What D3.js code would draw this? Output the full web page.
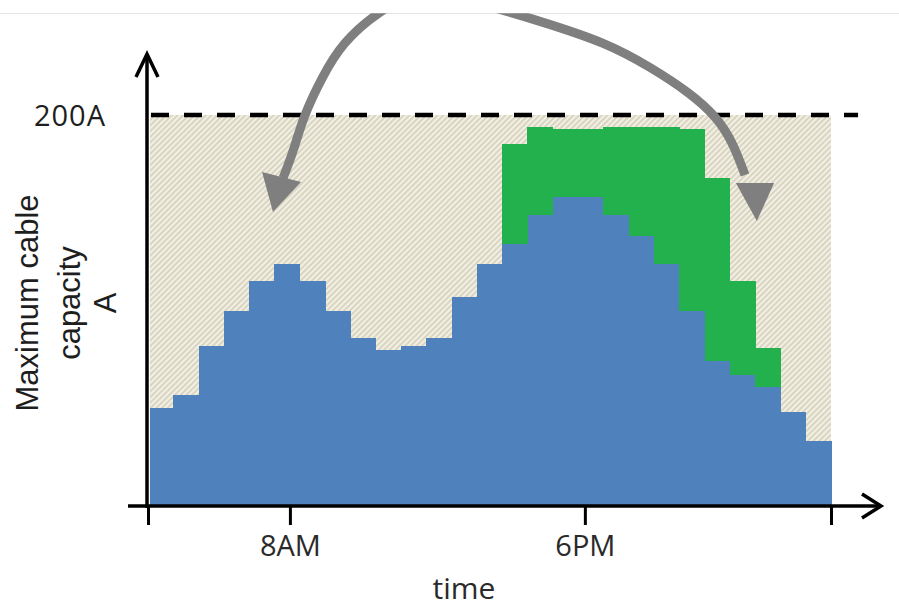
<!DOCTYPE html>
<html><head><meta charset="utf-8">
<script src="https://cdn.jsdelivr.net/npm/d3@7/dist/d3.min.js"></script>
<style>body{margin:0;background:#fff}svg{display:block}</style>
</head><body>
<svg id="chart" width="899" height="607"></svg>
<script>
// ---- data ----
const demandBlue = [50,57,82,100,115,124,115,100,86,80,82,86,107,124,134,149,158,158,149,138,124,100,74,67,61,48,33];
const shiftedGreen = [0,0,0,0,0,0,0,0,0,0,0,0,0,0,51,45,35,35,45,56,70,93,94,48,20,0,0];
const capacity = 200;
const capacityLabel = ["200A"];
const tickPositions = [0, 5.61, 17.27, 27];
const tickLabels = ["", "8AM", "6PM", ""];
const yLabelLines = ["Maximum cable", "capacity", "A"];
const xTitle = "time";
// shifting arrow, in (step, amps) units
const arcPoints = [[5.34,167.8],[5.77,182.1],[6.13,199],[6.88,219.4],[7.67,236.8],[9.09,253],[10.75,264],[12.6,259],[15.5,248.1],[18.15,236.8],[19.85,224.6],[21.43,211.3],[22.49,199],[23.13,185.7],[23.6,169.3]];
const leftHead = [[4.94,150.4],[4.51,170.8],[6.05,165.7]];
const rightHead = [[24.07,145.8],[23.24,165.2],[24.75,165.2]];
const clipTop = 252;
const dashEnd = 28.07;

// ---- scales ----
const svg = d3.select("#chart");
const x = d3.scaleLinear().domain([0, demandBlue.length]).range([148, 831]);
const y = d3.scaleLinear().domain([0, capacity]).range([506, 115]);

// defs
const defs = svg.append("defs");
const pat = defs.append("pattern").attr("id","hatch").attr("patternUnits","userSpaceOnUse")
  .attr("width",4).attr("height",4).attr("patternTransform","rotate(-45)");
pat.append("rect").attr("width",4).attr("height",4).attr("fill","#d9d5bf");
pat.append("rect").attr("width",4).attr("height",2).attr("fill","#f1efe6");
defs.append("clipPath").attr("id","clipArc").append("rect")
  .attr("x",0).attr("y",y(clipTop)).attr("width",899).attr("height",607);

// top border
svg.append("line").attr("x1",0).attr("x2",899).attr("y1",13.5).attr("y2",13.5)
  .attr("stroke","#e4e4e4").attr("stroke-width",1);

// hatched capacity area
svg.append("rect").attr("x",x(0)+2).attr("y",y(capacity))
  .attr("width",x(demandBlue.length)-x(0)-2).attr("height",y(0)-y(capacity))
  .attr("fill","url(#hatch)");

const idx = d3.range(demandBlue.length);
svg.append("g").attr("shape-rendering","crispEdges").selectAll("rect").data(idx).join("rect")
  .attr("x", i => x(i)+ (i===0?2:0)).attr("width", i => x(i+1)-x(i)+0.5 - (i===0?2:0))
  .attr("y", i => y(demandBlue[i])).attr("height", i => y(0)-y(demandBlue[i]))
  .attr("fill","#4f81bd");
svg.append("g").attr("shape-rendering","crispEdges").selectAll("rect").data(idx.filter(i=>shiftedGreen[i]>0)).join("rect")
  .attr("x", i => x(i)).attr("width", i => x(i+1)-x(i)+0.5)
  .attr("y", i => y(demandBlue[i]+shiftedGreen[i])).attr("height", i => y(demandBlue[i])-y(demandBlue[i]+shiftedGreen[i]))
  .attr("fill","#22b14c");

// dashed capacity line
svg.append("line").attr("x1",x(0)+3).attr("x2",x(dashEnd)).attr("y1",y(capacity)).attr("y2",y(capacity))
  .attr("stroke","#000").attr("stroke-width",4.5).attr("stroke-dasharray","18,15");

// x axis
const xAxis = d3.axisBottom(x).tickValues(tickPositions).tickFormat((d,i)=>tickLabels[i])
  .tickSizeInner(19).tickSizeOuter(0).tickPadding(10);
const gx = svg.append("g").attr("transform",`translate(0,${y(0)})`).call(xAxis);
gx.select(".domain").remove();
gx.selectAll(".tick line").attr("stroke","#000").attr("stroke-width",3);
gx.selectAll(".tick text").attr("fill","#2a2a2a").style("font-family","'Open Sans'").style("font-size","29px");
svg.append("line").attr("x1",x(0)-20).attr("x2",x(demandBlue.length)+49).attr("y1",y(0)).attr("y2",y(0))
  .attr("stroke","#000").attr("stroke-width",3.5);
svg.append("path").attr("d",`M${x(demandBlue.length)+31},${y(0)-12}L${x(demandBlue.length)+50},${y(0)}L${x(demandBlue.length)+31},${y(0)+12}`)
  .attr("fill","none").attr("stroke","#000").attr("stroke-width",3.5);

// y axis
const yAxis = d3.axisLeft(y).tickValues([capacity]).tickFormat((d,i)=>capacityLabel[i]).tickSize(0).tickPadding(41);
const gy = svg.append("g").attr("transform",`translate(${x(0)-1},0)`).call(yAxis);
gy.select(".domain").remove();
gy.selectAll(".tick text").attr("fill","#1e1e1e").attr("dy","0.36em").attr("letter-spacing","1px")
  .style("font-family","'Open Sans'").style("font-size","29px");
svg.append("line").attr("x1",x(0)-1).attr("x2",x(0)-1).attr("y1",y(0)+2).attr("y2",y(capacity)-61)
  .attr("stroke","#000").attr("stroke-width",3.5);
svg.append("path").attr("d",`M${x(0)-12},${y(capacity)-38}L${x(0)-1},${y(capacity)-61}L${x(0)+10},${y(capacity)-38}`)
  .attr("fill","none").attr("stroke","#000").attr("stroke-width",3.5);

// axis titles
svg.append("text").attr("x",464).attr("y",599).attr("text-anchor","middle")
  .attr("fill","#2a2a2a").style("font-family","'Open Sans'").style("font-size","30px").text(xTitle);
const ylBase = [38, 80, 116];
yLabelLines.forEach((t,i)=>{
  svg.append("text").attr("transform",`translate(${ylBase[i]},303) rotate(-90)`).attr("text-anchor","middle")
    .attr("fill","#1e1e1e").style("font-family","'Liberation Sans', Arial, sans-serif").style("font-size","31px").text(t);
});

// shifting arrow
const line = d3.line().x(d=>x(d[0])).y(d=>y(d[1]));
const g = svg.append("g").attr("clip-path","url(#clipArc)");
g.append("path").datum(arcPoints)
  .attr("d", line.curve(d3.curveBasis))
  .attr("fill","none").attr("stroke","#7f7f7f").attr("stroke-width",9);
const headLine = d3.line().x(d=>x(d[0])).y(d=>y(d[1]));
[leftHead, rightHead].forEach(h=>{
  g.append("path").attr("d", headLine(h)+"Z").attr("fill","#7f7f7f");
});
</script>
</body></html>
